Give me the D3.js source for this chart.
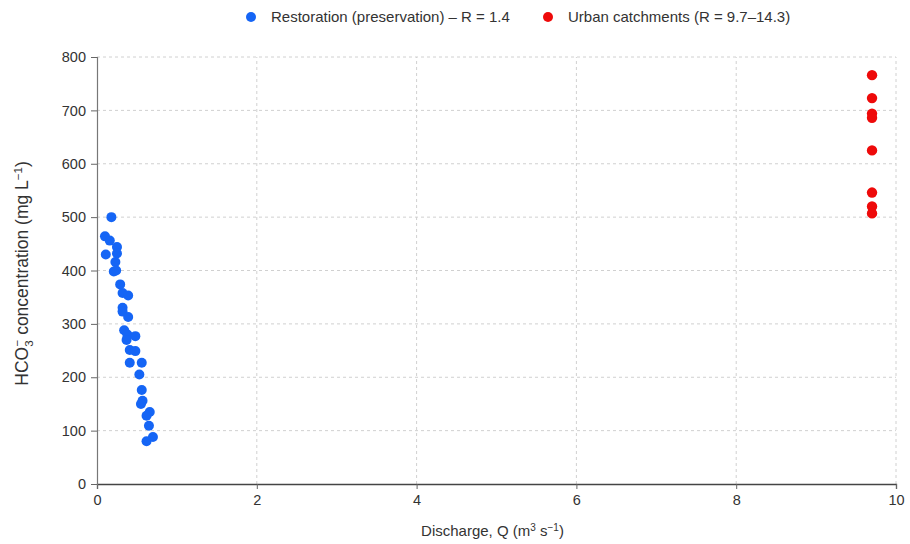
<!DOCTYPE html>
<html>
<head>
<meta charset="utf-8">
<script src="https://cdn.jsdelivr.net/npm/d3@7"></script>
<style>
  html, body { margin: 0; padding: 0; background: #fff; }
  svg text { font-family: "Liberation Sans", Arial, sans-serif; fill: #333; }
</style>
</head>
<body>
<svg id="chart" width="910" height="544"></svg>
<script>
// Discharge (m³/s) and HCO3- concentration (mg/L) for each sampled site
const restorationQ = [0.18, 0.10, 0.16, 0.11, 0.25, 0.25, 0.23, 0.24, 0.21, 0.29, 0.32, 0.39, 0.32, 0.32, 0.39,
  0.34, 0.38, 0.48, 0.37, 0.41, 0.48, 0.41, 0.56, 0.53, 0.56, 0.57, 0.55, 0.66, 0.62, 0.65, 0.70, 0.62];
const restorationHCO3 = [500, 464, 456, 430, 444, 432, 416, 400, 398, 374, 358, 353, 330, 323, 313,
  288, 280, 277, 270, 251, 249, 227, 227, 205, 176, 156, 150, 135, 128, 109, 88, 80];
const urbanQ = [9.7, 9.7, 9.7, 9.7, 9.7, 9.7, 9.7, 9.7];
const urbanHCO3 = [766, 723, 694, 686, 625, 546, 520, 507];

const xTicks = [0, 2, 4, 6, 8, 10];
const yTicks = [0, 100, 200, 300, 400, 500, 600, 700, 800];

const seriesNames = ["Restoration (preservation) \u2013 R = 1.4", "Urban catchments (R = 9.7\u201314.3)"];
const seriesColors = ["#1565f5", "#ee0a0a"];

const svg = d3.select("#chart");
const margin = { left: 97, right: 14, top: 57, bottom: 60 };
const W = 910, H = 544;

const x = d3.scaleLinear().domain([0, 10]).range([margin.left, W - margin.right]);
const y = d3.scaleLinear().domain([0, 800]).range([H - margin.bottom, margin.top]);

// dashed grid
const grid = svg.append("g");
grid.selectAll(".gx").data(xTicks.filter(d => d > 0)).join("line")
  .attr("x1", d => x(d)).attr("x2", d => x(d))
  .attr("y1", y(0)).attr("y2", y(800))
  .attr("stroke", "#d0d0d0").attr("stroke-width", 1).attr("stroke-dasharray", "3,3");
grid.selectAll(".gy").data(yTicks.filter(d => d > 0)).join("line")
  .attr("x1", x(0)).attr("x2", x(10))
  .attr("y1", d => y(d)).attr("y2", d => y(d))
  .attr("stroke", "#d0d0d0").attr("stroke-width", 1).attr("stroke-dasharray", "3,3");

// axes
const xAxis = svg.append("g")
  .attr("transform", `translate(0,${y(0)})`)
  .call(d3.axisBottom(x).tickValues(xTicks).tickSize(5).tickPadding(6).tickFormat(d3.format("d")));
xAxis.select(".domain").attr("stroke", "#444").attr("stroke-width", 1.3);
xAxis.selectAll(".tick line").attr("stroke", "#666");
xAxis.selectAll("text").style("font-size", "14.5px").style("fill", "#333");

const yAxis = svg.append("g")
  .attr("transform", `translate(${x(0)},0)`)
  .call(d3.axisLeft(y).tickValues(yTicks).tickSize(6).tickPadding(5).tickFormat(d3.format("d")));
yAxis.select(".domain").attr("stroke", "#777").attr("stroke-width", 1.2);
yAxis.selectAll(".tick line").attr("stroke", "#666");
yAxis.selectAll("text").style("font-size", "14.5px").style("fill", "#333");

// axis titles
const xt = svg.append("text")
  .attr("x", (x(0) + x(10)) / 2 - 4).attr("y", 536)
  .attr("text-anchor", "middle").style("font-size", "15px");
xt.append("tspan").text("Discharge, Q (m");
xt.append("tspan").attr("dy", -5).style("font-size", "10px").text("3");
xt.append("tspan").attr("dy", 5).text(" s");
xt.append("tspan").attr("dy", -5).style("font-size", "10px").text("\u22121");
xt.append("tspan").attr("dy", 5).text(")");

const yt = svg.append("text")
  .attr("transform", `translate(28,${(y(0) + y(800)) / 2 + 3}) rotate(-90)`)
  .attr("text-anchor", "middle").style("font-size", "17.5px");
yt.append("tspan").text("HCO");
yt.append("tspan").attr("dy", 5).style("font-size", "11.5px").text("3");
yt.append("tspan").attr("dy", -12).attr("dx", -6).style("font-size", "11.5px").text("\u2212");
yt.append("tspan").attr("dy", 7).text(" concentration (mg L");
yt.append("tspan").attr("dy", -6).style("font-size", "11.5px").text("\u22121");
yt.append("tspan").attr("dy", 6).text(")");

// points
const restoration = restorationQ.map((q, i) => ({ q, c: restorationHCO3[i] }));
const urban = urbanQ.map((q, i) => ({ q, c: urbanHCO3[i] }));

svg.append("g").selectAll("circle").data(restoration).join("circle")
  .attr("cx", d => x(d.q)).attr("cy", d => y(d.c)).attr("r", 5)
  .attr("fill", seriesColors[0]);
svg.append("g").selectAll("circle").data(urban).join("circle")
  .attr("cx", d => x(d.q)).attr("cy", d => y(d.c)).attr("r", 5.2)
  .attr("fill", seriesColors[1]);

// legend
const legendX = [251, 548];
const legend = svg.append("g");
seriesNames.forEach((name, i) => {
  legend.append("circle").attr("cx", legendX[i]).attr("cy", 17).attr("r", 5).attr("fill", seriesColors[i]);
  legend.append("text").attr("x", legendX[i] + 20).attr("y", 22)
    .style("font-size", "15px").text(name);
});
</script>
</body>
</html>
